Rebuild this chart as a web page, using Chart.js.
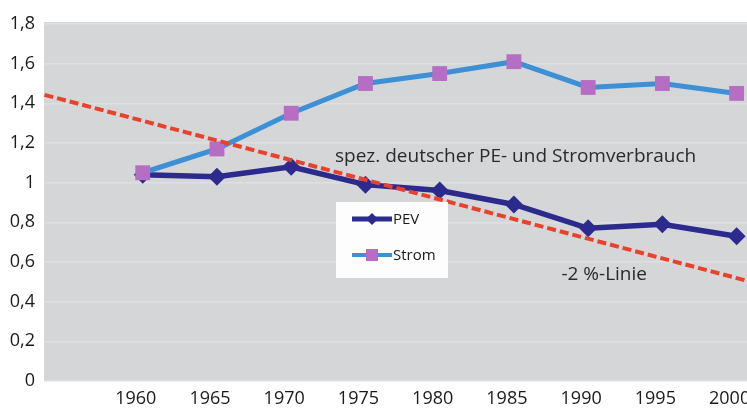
<!DOCTYPE html>
<html>
<head>
<meta charset="utf-8">
<script src="https://cdn.jsdelivr.net/npm/chart.js@4.4.0/dist/chart.umd.min.js"></script>
<style>
html, body { margin: 0; padding: 0; background: #fff; }
#wrap { width: 747px; height: 408px; position: relative; }
</style>
</head>
<body>
<div id="wrap"><canvas id="chart" width="747" height="408"></canvas></div>
<script>
// values (index, 1960 basis)
const years = [1960, 1965, 1970, 1975, 1980, 1985, 1990, 1995, 2000];
const pevValues = [1.04, 1.03, 1.08, 0.99, 0.96, 0.89, 0.77, 0.79, 0.73];
const stromValues = [1.05, 1.17, 1.35, 1.50, 1.55, 1.61, 1.48, 1.50, 1.45];
// -2% line, a straight dashed line running past both edges
const trendYears = [1950, 2005];
const trendValues = [1.51, 0.42];
const yTicks = [0, 0.2, 0.4, 0.6, 0.8, 1.0, 1.2, 1.4, 1.6, 1.8];

const PEV_COLOR = '#2c2a8c';
const STROM_LINE = '#3d8fd6';
const STROM_POINT = '#b56ec3';
const TREND_COLOR = '#e8412c';
const PLOT_BG = '#d5d6d8';
const FONT = '"Open Sans", "Noto Sans", sans-serif';

const toPoints = (xs, ys) => xs.map((x, i) => ({ x: x, y: ys[i] }));
const fmtDe = v => String(Number(v.toFixed(1))).replace('.', ',');

const plotBackground = {
    id: 'plotBackground',
    beforeDraw(chart) {
        const { ctx, chartArea: a } = chart;
        ctx.save();
        ctx.fillStyle = PLOT_BG;
        ctx.fillRect(a.left, a.top - 2, a.right - a.left, a.bottom - a.top + 2);
        ctx.restore();
    }
};

const notes = {
    id: 'notes',
    afterDatasetsDraw(chart) {
        const { ctx, scales } = chart;
        const x = scales.x, y = scales.y;
        ctx.save();
        ctx.fillStyle = '#2a2a2a';
        ctx.textBaseline = 'middle';
        ctx.textAlign = 'left';
        ctx.font = '19px ' + FONT;
        ctx.fillText('spez. deutscher PE- und Stromverbrauch', x.getPixelForValue(1972.95), y.getPixelForValue(1.13));
        ctx.fillText('-2 %-Linie', x.getPixelForValue(1988.2), y.getPixelForValue(0.535));

        // legend box
        const bx = 336, by = 202, bw = 112, bh = 76;
        ctx.fillStyle = '#fdfdfd';
        ctx.fillRect(bx, by, bw, bh);
        const rows = [
            { label: 'PEV', line: PEV_COLOR, point: PEV_COLOR, width: 5, shape: 'diamond', cy: by + 17 },
            { label: 'Strom', line: STROM_LINE, point: STROM_POINT, width: 4, shape: 'square', cy: by + 53 }
        ];
        rows.forEach(r => {
            ctx.strokeStyle = r.line;
            ctx.lineWidth = r.width;
            ctx.beginPath();
            ctx.moveTo(bx + 16, r.cy);
            ctx.lineTo(bx + 56, r.cy);
            ctx.stroke();
            ctx.fillStyle = r.point;
            const cx = bx + 36;
            ctx.beginPath();
            if (r.shape === 'diamond') {
                ctx.moveTo(cx, r.cy - 6);
                ctx.lineTo(cx + 6, r.cy);
                ctx.lineTo(cx, r.cy + 6);
                ctx.lineTo(cx - 6, r.cy);
                ctx.closePath();
            } else {
                ctx.rect(cx - 6, r.cy - 6, 12, 12);
            }
            ctx.fill();
            ctx.fillStyle = '#1a1a1a';
            ctx.font = '15px ' + FONT;
            ctx.fillText(r.label, bx + 57, r.cy + 1);
        });
        ctx.restore();
    }
};

new Chart(document.getElementById('chart'), {
    type: 'line',
    data: {
        datasets: [
            {
                label: '-2%-Linie',
                data: toPoints(trendYears, trendValues),
                borderColor: TREND_COLOR,
                borderWidth: 4,
                borderDash: [9, 4],
                pointRadius: 0,
                fill: false
            },
            {
                label: 'Strom',
                data: toPoints(years, stromValues),
                borderColor: STROM_LINE,
                borderWidth: 5,
                pointStyle: 'rect',
                pointRadius: 10.5,
                pointBackgroundColor: STROM_POINT,
                pointBorderColor: STROM_POINT,
                pointBorderWidth: 0,
                fill: false
            },
            {
                label: 'PEV',
                data: toPoints(years, pevValues),
                borderColor: PEV_COLOR,
                borderWidth: 5.5,
                pointStyle: 'rectRot',
                pointRadius: 9,
                pointBackgroundColor: PEV_COLOR,
                pointBorderColor: PEV_COLOR,
                pointBorderWidth: 0,
                fill: false
            }
        ]
    },
    options: {
        responsive: false,
        animation: false,
        devicePixelRatio: 1,
        layout: { autoPadding: false, padding: { top: 24, left: 0, right: 0, bottom: 0 } },
        plugins: {
            legend: { display: false },
            tooltip: { enabled: false }
        },
        scales: {
            x: {
                type: 'linear',
                min: 1953.35,
                max: 2000.7,
                afterBuildTicks: s => { s.ticks = years.map(v => ({ value: v })); },
                afterFit: s => { s.height = 27; s.paddingLeft = 0; s.paddingRight = 0; },
                grid: { display: false, drawTicks: false },
                border: { display: false },
                ticks: {
                    color: '#1a1a1a',
                    font: { family: FONT, size: 18 },
                    padding: 7,
                    labelOffset: -7,
                    maxRotation: 0,
                    autoSkip: false,
                    callback: v => String(v)
                }
            },
            y: {
                min: 0,
                max: 1.8,
                afterBuildTicks: s => { s.ticks = yTicks.map(v => ({ value: v })); },
                afterFit: s => { s.width = 44; },
                grid: { color: '#dedfe1', lineWidth: 1.5, drawTicks: false },
                border: { display: false },
                ticks: {
                    color: '#1a1a1a',
                    font: { family: FONT, size: 18 },
                    padding: 9,
                    callback: v => fmtDe(v)
                }
            }
        }
    },
    plugins: [plotBackground, notes]
});
</script>
</body>
</html>
